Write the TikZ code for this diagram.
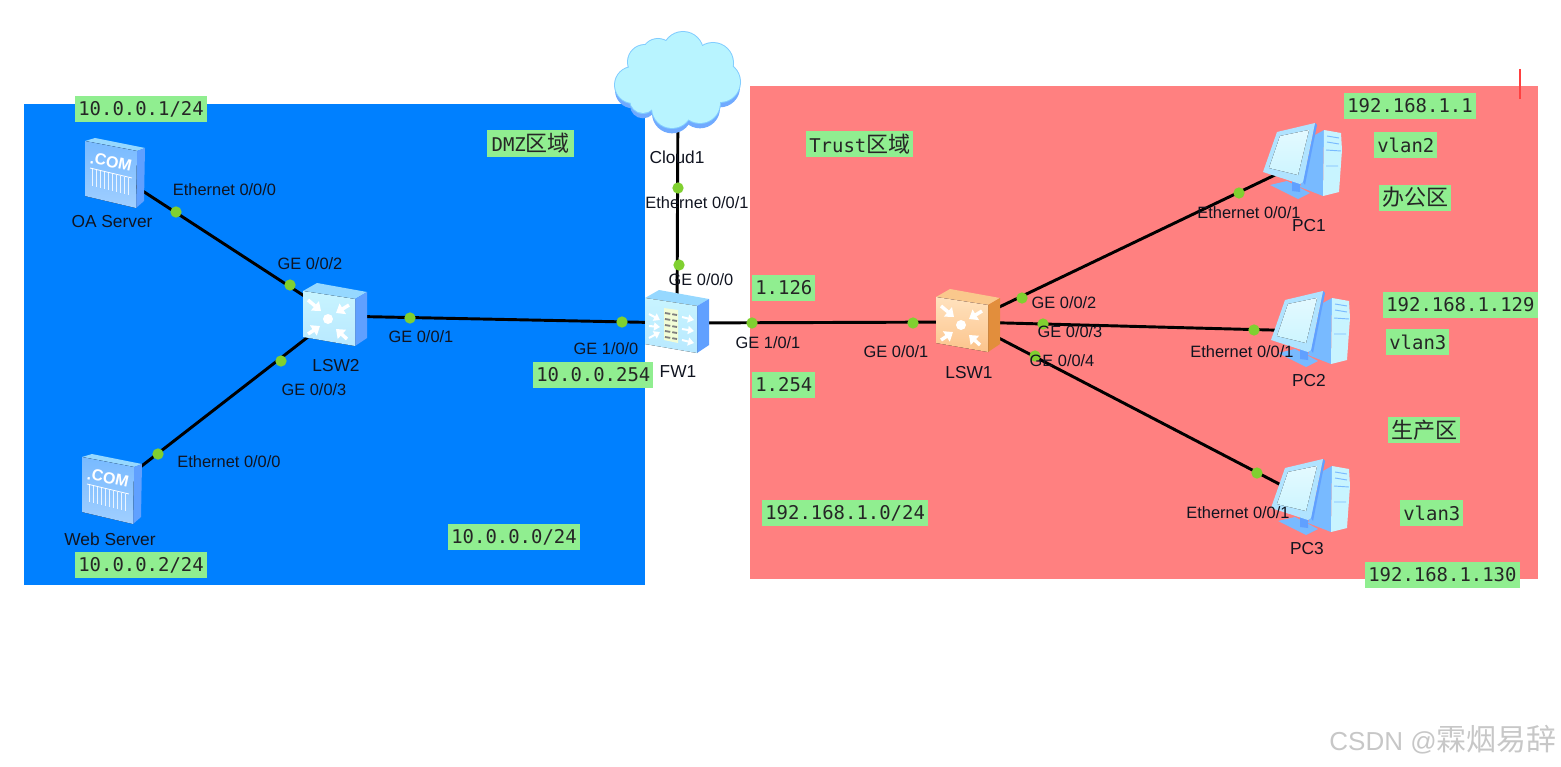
\documentclass[tikz,border=0pt]{standalone}
\usepackage{fontspec}
\setmainfont{Liberation Sans}
\setmonofont{DejaVu Sans Mono}
\newfontfamily\cjk{Noto Sans CJK SC}
\usetikzlibrary{arrows.meta}
\definecolor{zoneblue}{RGB}{0,128,255}
\definecolor{zonered}{RGB}{255,128,128}
\definecolor{notegreen}{RGB}{144,238,144}
\definecolor{portgreen}{RGB}{128,208,48}
\definecolor{labelink}{RGB}{16,20,32}
\definecolor{iconside}{RGB}{96,160,255}
\definecolor{icontop}{RGB}{150,216,255}
\definecolor{iconpale}{RGB}{200,244,255}
\definecolor{iconmid}{RGB}{120,186,255}
\definecolor{cloudfill}{RGB}{184,244,255}
\definecolor{cloudedge}{RGB}{130,205,255}
\definecolor{swfront}{RGB}{255,226,190}
\definecolor{swfrontb}{RGB}{252,196,140}
\definecolor{swtop}{RGB}{250,200,140}
\definecolor{swside}{RGB}{226,142,60}
\tikzset{
  link/.style={line width=2.2pt, draw=black},
  devnode/.style={circle, inner sep=0pt, minimum size=1pt, outer sep=0pt},
  portdot/.style={circle, fill=portgreen, inner sep=0pt, minimum size=8.5pt},
  portlabel/.style={font=\fontsize{12.3}{14}\selectfont, text=labelink, inner sep=0pt},
  devlabel/.style={font=\fontsize{13}{15}\selectfont, text=labelink, inner sep=0pt},
  note/.style={anchor=west, fill=notegreen, inner xsep=2.3pt, inner ysep=0pt, minimum height=19.5pt,
    font=\ttfamily\fontsize{14.2}{16}\selectfont, text=black!85},
  pics/cube/.style n args={4}{code={
    \fill[#3] (-32,-25) -- (-18,-33) -- (32,-24) -- (20,-17) -- cycle;
    \fill[#4] (20,-17) -- (32,-24) -- (32,22) -- (20,30) -- cycle;
    \fill[top color=#1, bottom color=#2] (-32,-25) -- (20,-17) -- (20,30) -- (-32,21) -- cycle;
  }},
  pics/swmark/.style={code={
    \fill[white] (-7,3) circle (5);
    \foreach \sx/\sy/\ex/\ey in {-27/-16/-14/-5, 14/-11/1/-3, -27/18/-15/10, 12/23/1/13}
      \draw[white, line width=2.6pt, -{Triangle[length=6pt,width=9pt]}] (\sx,\sy) -- (\ex,\ey);
  }},
  pics/fwmark/.style={code={
    \fill[iconpale!60!yellow!40!white] (-13,-15) -- (1,-13) -- (1,20) -- (-13,17) -- cycle;
    \foreach \by in {-10,-4,2,8,14}
      \draw[black!50, line width=1.4pt, dash pattern=on 4pt off 1.5pt] (-12,\by) -- (0,\by+2);
    \foreach \sx/\sy/\ex/\ey in {-28/-9/-17/-3, -28/3/-17/4, -28/15/-17/9, 5/-6/17/-3, 5/6/17/8, 5/17/17/20}
      \draw[white, line width=1.5pt, -{Triangle[length=4.5pt,width=6pt]}] (\sx,\sy) -- (\ex,\ey);
  }},
  pics/server/.style={code={
    \fill[icontop] (-30,-32) -- (-20,-35) -- (30,-25) -- (22,-22) -- cycle;
    \fill[iconside] (22,-22) -- (30,-25) -- (29,28) -- (21,35) -- cycle;
    \fill[top color=iconmid, bottom color=iconmid!70!white] (-30,-32) -- (22,-22) -- (21,35) -- (-30,23) -- cycle;
    \node[rotate=-12, text=white, inner sep=0pt, font=\bfseries\fontsize{12}{12}\selectfont] at (-4,-11) {.COM};
    \draw[white, line width=.6pt] (-25,-5) -- (17,5);
    \foreach \bx in {-23,-19,-15,-11,-7,-3,1,5,9,13}
      \draw[white!85!iconmid, line width=.7pt] (\bx,{.24*\bx+2}) -- (\bx,{.24*\bx+19});
  }},
  pics/pcset/.style={code={
    \fill[iconmid] (-30,22) -- (-13,18) -- (10,30) -- (-2,36) -- cycle;
    \fill[iconside] (-8,18) -- (0,19) -- (0,29) -- (-8,28) -- cycle;
    \fill[iconmid] (15,-28) -- (24,-33) -- (23,33) -- (0,24) -- cycle;
    \fill[iconpale] (24,-33) -- (41,-30) -- (42,-13) -- (39,29) -- (23,33) -- cycle;
    \draw[iconmid, line width=.7pt] (27,-27) -- (39,-25) (27,-21) -- (39,-19) (26,-13) -- (41,-12) (26,3) -- (38,3);
    \fill[iconside] (3,19) -- (15,-40) -- (17,-38) -- (5,22) -- cycle;
    \fill[iconpale!70!iconmid] (-37,9) -- (-23,-31) -- (15,-40) -- (3,19) -- (0,21) -- cycle;
    \fill[top color=iconpale!50!white, bottom color=iconpale!90!white] (-31,5) -- (-20,-27) -- (9,-33) -- (-2,12) -- cycle;
  }}
}
\newcommand{\cloudbumps}[2]{%
  \foreach \cx/\cy/\cr in {-44/0/18,-32/-23/17,-19/-30/16,6/-33/20,36/-22/20,43/-3/20,23/18/20,-5/23/20,-34/15/13,0/-5/36}
    \fill[#1] (\cx,\cy) circle ({\cr+#2});}
\newcommand{\cn}[1]{{\cjk\fontsize{16.5}{16}\selectfont #1}}
\begin{document}
\begin{tikzpicture}[x=.75pt, y=-.75pt]
  \useasboundingbox (0,0) rectangle (1561,767);
  % Security zones.
  \fill[zoneblue] (24,104) rectangle (645,585);
  \fill[zonered] (750,86) rectangle (1538,579);
  \draw[red!75!white, line width=1.2pt] (1520,69) -- (1520,99);

  % Device positions.
  \node[devnode] (oaserver) at (115,173) {};
  \node[devnode] (webserver) at (112,489) {};
  \node[devnode] (lsw2) at (335,316) {};
  \node[devnode] (cloud1) at (678,85) {};
  \node[devnode] (fw1) at (677,323) {};
  \node[devnode] (lsw1) at (968,322) {};
  \node[devnode] (pc1) at (1300,163) {};
  \node[devnode] (pc2) at (1308,331) {};
  \node[devnode] (pc3) at (1308,499) {};

  % Cables.
  \draw[link] (oaserver) -- (lsw2);
  \draw[link] (webserver) -- (lsw2);
  \draw[link] (lsw2) -- (fw1);
  \draw[link] (cloud1) -- (fw1);
  \draw[link] (fw1) -- (lsw1);
  \draw[link] (lsw1) -- (pc1);
  \draw[link] (lsw1) -- (pc2);
  \draw[link] (lsw1) -- (pc3);

  % Device icons.
  \pic at (oaserver) {server};
  \pic at (webserver) {server};
  \pic at (lsw2) {cube={iconpale}{iconpale!80!iconmid}{icontop}{iconside}};
  \pic at (lsw2) {swmark};
  \pic at (fw1) {cube={iconpale}{iconpale!80!iconmid}{icontop}{iconside}};
  \pic at (fw1) {fwmark};
  \pic at (lsw1) {cube={swfront}{swfrontb}{swtop}{swside}};
  \pic at (lsw1) {swmark};
  \pic at (pc1) {pcset};
  \pic at (pc2) {pcset};
  \pic at (pc3) {pcset};
  \begin{scope}[shift={(677,85)}]
    \begin{scope}[yshift=-4pt]
      \cloudbumps{iconside!90!white}{0}
    \end{scope}
    \cloudbumps{cloudedge}{1}
    \cloudbumps{cloudfill}{0}
  \end{scope}

  % Port markers.
  \foreach \px/\py [count=\pi] in {176/212,290/285,281/361,158/454,410/318,622/322,678/188,679/265,
      752/323,913/323,1022/298,1239/193,1043/324,1254/330,1035/356,1257/473}
    \node[portdot] (port\pi) at (\px,\py) {};

  % Port names.
  \node[portlabel] (oaeth) at (224.5,190) {Ethernet 0/0/0};
  \node[portlabel] (lsw2g2) at (310,264) {GE 0/0/2};
  \node[portlabel] (lsw2g1) at (421,337) {GE 0/0/1};
  \node[portlabel] (lsw2g3) at (314,390) {GE 0/0/3};
  \node[portlabel] (webeth) at (229,462) {Ethernet 0/0/0};
  \node[portlabel] (cloudeth) at (697,203) {Ethernet 0/0/1};
  \node[portlabel] (fwg0) at (701,280) {GE 0/0/0};
  \node[portlabel] (fwg10) at (606,349) {GE 1/0/0};
  \node[portlabel] (fwg11) at (768,343) {GE 1/0/1};
  \node[portlabel] (lsw1g1) at (896,352) {GE 0/0/1};
  \node[portlabel] (lsw1g2) at (1064,303) {GE 0/0/2};
  \node[portlabel] (lsw1g3) at (1070,332) {GE 0/0/3};
  \node[portlabel] (lsw1g4) at (1062,361) {GE 0/0/4};
  \node[portlabel] (pc1eth) at (1249,213) {Ethernet 0/0/1};
  \node[portlabel] (pc2eth) at (1242,352) {Ethernet 0/0/1};
  \node[portlabel] (pc3eth) at (1238,513) {Ethernet 0/0/1};

  % Device names.
  \node[devlabel] (oaname) at (112,222) {OA Server};
  \node[devlabel] (webname) at (110,539) {Web Server};
  \node[devlabel] (lsw2name) at (336,366) {LSW2};
  \node[devlabel] (cloudname) at (677,157) {Cloud1};
  \node[devlabel] (fwname) at (678,372) {FW1};
  \node[devlabel] (lsw1name) at (969,373) {LSW1};
  \node[devlabel] (pc1name) at (1309,226) {PC1};
  \node[devlabel] (pc2name) at (1309,381) {PC2};
  \node[devlabel] (pc3name) at (1307,549) {PC3};

  % Address notes.
  \node[note] (oaip) at (75,109.5) {10.0.0.1/24};
  \node[note] (webip) at (75,565) {10.0.0.2/24};
  \node[note] (dmznet) at (448,537) {10.0.0.0/24};
  \node[note] (dmzgw) at (533,375) {10.0.0.254};
  \node[note, minimum width=65.2pt] (dmzname) at (487,143.5) {DMZ\cn{区域}};
  \node[note] (trustname) at (806,144) {Trust\cn{区域}};
  \node[note] (fwtop) at (752,288) {1.126};
  \node[note] (fwbot) at (752,385) {1.254};
  \node[note] (trustnet) at (762,513) {192.168.1.0/24};
  \node[note] (pc1ip) at (1344,106) {192.168.1.1};
  \node[note] (pc1vlan) at (1374,145) {vlan2};
  \node[note] (officename) at (1379,197.5) {\cn{办公区}};
  \node[note] (pc2ip) at (1383,304.5) {192.168.1.129};
  \node[note] (pc2vlan) at (1386,342) {vlan3};
  \node[note] (prodname) at (1388,430) {\cn{生产区}};
  \node[note] (pc3vlan) at (1400,513) {vlan3};
  \node[note] (pc3ip) at (1365,574.5) {192.168.1.130};

  % Watermark.
  \node[anchor=east, inner sep=0pt, text=black!22, font=\fontsize{19.5}{24}\selectfont] (mark) at (1557,740)
    {CSDN @{\cjk\fontsize{22.5}{24}\selectfont 霖烟易辞}};
\end{tikzpicture}
\end{document}
